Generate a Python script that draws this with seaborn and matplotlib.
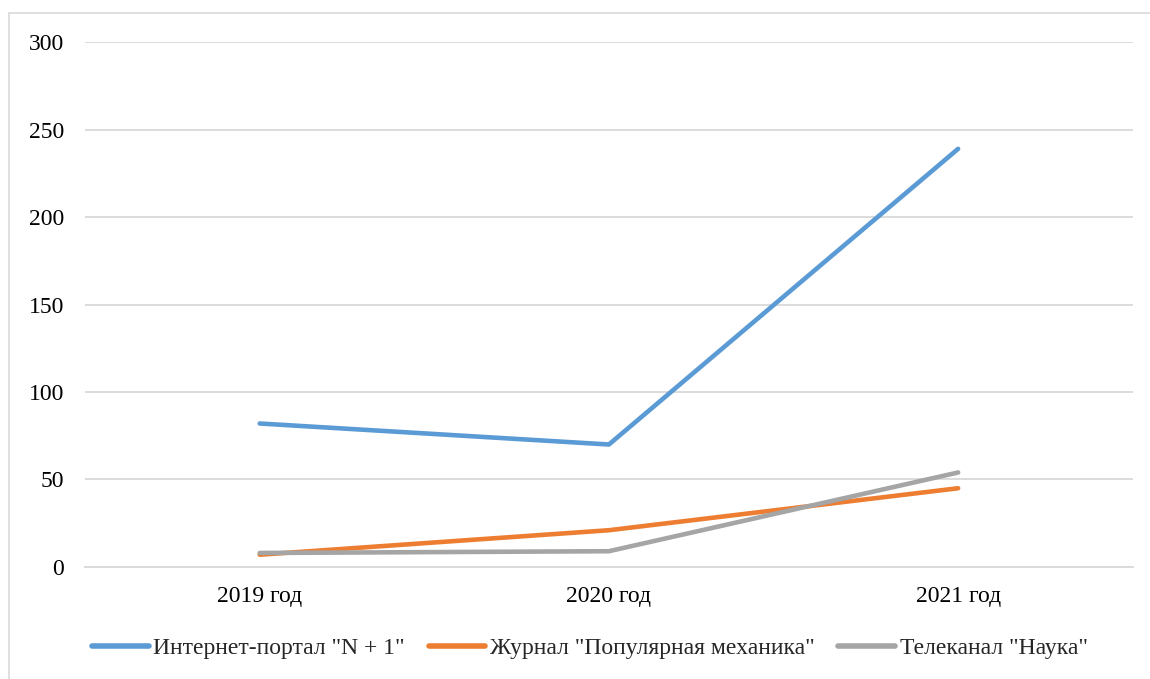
import pandas as pd
import matplotlib.pyplot as plt
import seaborn as sns
from matplotlib.lines import Line2D

plt.switch_backend('Agg')

# dados
anos = ['2019 год', '2020 год', '2021 год']
n_plus_1 = [82, 70, 239]
pop_meh = [7, 21, 45]
nauka = [8, 9, 54]
series_nomes = ['Интернет-портал "N + 1"', 'Журнал "Популярная механика"', 'Телеканал "Наука"']
cores = ['#5B9BD5', '#ED7D31', '#A5A5A5']

df = pd.DataFrame({
    'Год': anos * 3,
    'x': list(range(len(anos))) * 3,
    'Значение': n_plus_1 + pop_meh + nauka,
    'Серия': [series_nomes[0]] * 3 + [series_nomes[1]] * 3 + [series_nomes[2]] * 3,
})

sns.set_style('white')
plt.rcParams['font.family'] = ['Liberation Serif', 'DejaVu Serif']

fig = plt.figure(figsize=(11.5, 6.79), dpi=100)
ax = fig.add_axes([0.074, 0.165, 0.911, 0.773])

sns.lineplot(data=df, x='x', y='Значение', hue='Серия', palette=cores,
             hue_order=series_nomes, linewidth=3.3, ax=ax, legend=False,
             solid_capstyle='round')

ax.set_xlim(-0.5, 2.5)
ax.set_ylim(0, 300)
ax.set_yticks(range(0, 301, 50))
ax.set_xticks(range(len(anos)))
ax.set_xticklabels(anos)
ax.set_xlabel('')
ax.set_ylabel('')
ax.grid(axis='y', color='#D9D9D9', linewidth=1.3)
ax.set_axisbelow(True)
for s in ['top', 'right', 'left']:
    ax.spines[s].set_visible(False)
ax.spines['bottom'].set_color('#D9D9D9')
ax.spines['bottom'].set_linewidth(1.3)
ax.tick_params(axis='both', length=0, labelsize=17, colors='black')
ax.tick_params(axis='y', pad=15)
ax.tick_params(axis='x', pad=14)

handles = [Line2D([0], [0], color=c, linewidth=4, solid_capstyle='round') for c in cores]
fig.legend(handles, series_nomes, loc='center', bbox_to_anchor=(0.513, 0.045), ncol=3,
           frameon=False, fontsize=17, handlelength=2.4, handletextpad=0.2, columnspacing=1.0)

# moldura do gráfico (estilo Excel)
fig.add_artist(Line2D([9 / 1150, 9 / 1150], [0, 1 - 13 / 679], color='#D9D9D9', linewidth=1.2))
fig.add_artist(Line2D([9 / 1150, 1], [1 - 13 / 679, 1 - 13 / 679], color='#D9D9D9', linewidth=1.2))

plt.savefig('out.png', dpi=100)
plt.close()
